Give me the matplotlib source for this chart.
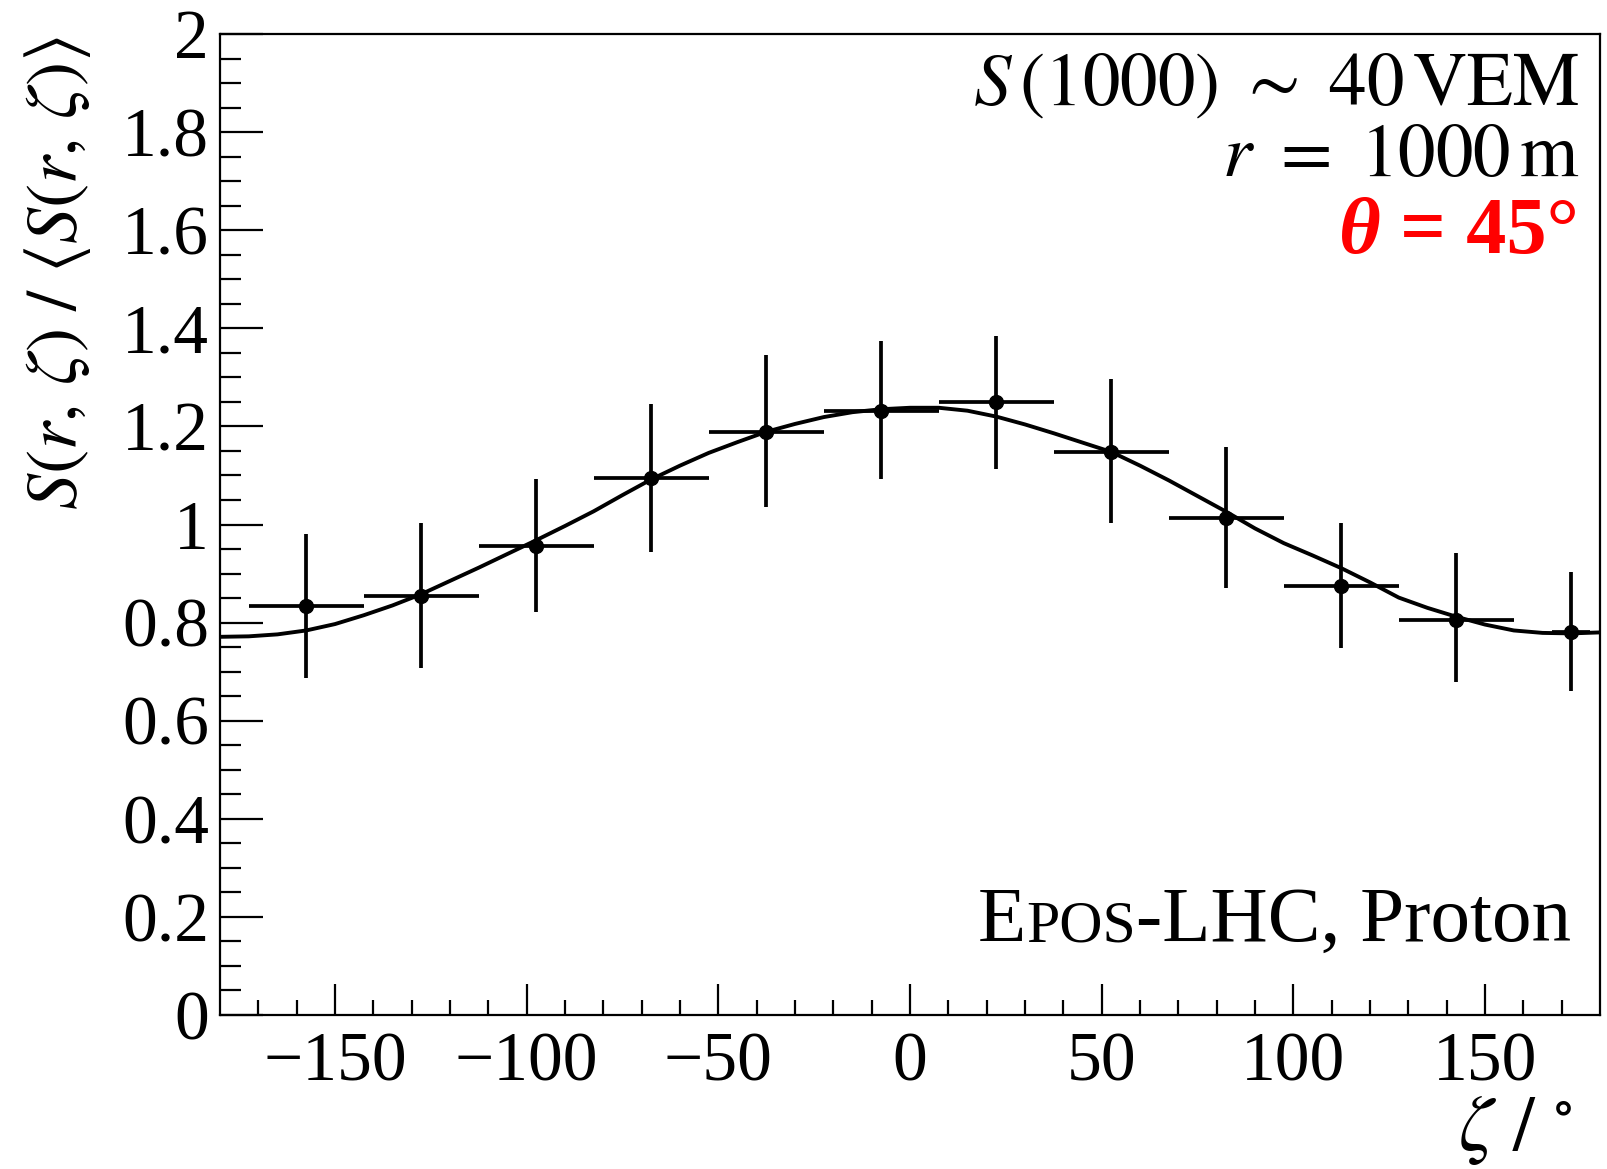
import numpy as np
import matplotlib
matplotlib.use("Agg")
import matplotlib.pyplot as plt
from matplotlib.offsetbox import TextArea, HPacker, AnchoredOffsetbox

plt.rcParams['font.family'] = ['Liberation Serif', 'DejaVu Serif']
plt.rcParams['mathtext.fontset'] = 'stix'

# data points (zeta bin centres, ratio, errors)
zeta = [-157.5, -127.5, -97.5, -67.5, -37.5, -7.5, 22.5, 52.5, 82.5, 112.5, 142.5, 172.5]
ratio = [0.834, 0.855, 0.957, 1.094, 1.188, 1.232, 1.250, 1.147, 1.014, 0.874, 0.806, 0.781]
err_hi = [0.146, 0.149, 0.135, 0.151, 0.158, 0.143, 0.134, 0.150, 0.145, 0.130, 0.135, 0.123]
err_lo = [0.146, 0.147, 0.135, 0.151, 0.152, 0.140, 0.137, 0.143, 0.144, 0.126, 0.127, 0.120]
zeta_err = [15, 15, 15, 15, 15, 15, 15, 15, 15, 15, 15, 5]

# fitted curve, every 7.5 deg
fit_x = [-180, -172.5, -165, -157.5, -150, -142.5, -135, -127.5, -120, -112.5, -105, -97.5,
         -90, -82.5, -75, -67.5, -60, -52.5, -45, -37.5, -30, -22.5, -15, -7.5,
         0, 7.5, 15, 22.5, 30, 37.5, 45, 52.5, 60, 67.5, 75, 82.5,
         90, 97.5, 105, 112.5, 120, 127.5, 135, 142.5, 150, 157.5, 165, 172.5, 180]
fit_y = [0.771, 0.772, 0.776, 0.784, 0.797, 0.815, 0.835, 0.858, 0.885, 0.912, 0.940, 0.968,
         0.997, 1.027, 1.060, 1.092, 1.120, 1.146, 1.168, 1.189, 1.205, 1.219, 1.229, 1.235,
         1.238, 1.238, 1.232, 1.220, 1.204, 1.186, 1.167, 1.148, 1.120, 1.090, 1.058, 1.026,
         0.992, 0.962, 0.937, 0.911, 0.882, 0.851, 0.830, 0.812, 0.796, 0.784, 0.779, 0.778, 0.780]

fig = plt.figure(figsize=(16.08, 11.69), dpi=100)
ax = fig.add_axes([220/1608, 154/1169, 1380/1608, 981/1169])

ax.plot(fit_x, fit_y, color='k', lw=2.8, zorder=2, solid_joinstyle='round')
ax.errorbar(zeta, ratio, xerr=zeta_err, yerr=[err_lo, err_hi], fmt='o', color='k',
            ms=10, elinewidth=2.7, capsize=0, zorder=3)

ax.set_xlim(-180, 180)
ax.set_ylim(0, 2)
ax.set_xticks([-150, -100, -50, 0, 50, 100, 150])
ax.set_xticklabels(['\u2212150', '\u2212100', '\u221250', '0', '50', '100', '150'])
ax.set_xticks(np.arange(-170, 180, 10), minor=True)
ax.set_yticks([0, 0.2, 0.4, 0.6, 0.8, 1, 1.2, 1.4, 1.6, 1.8, 2])
ax.set_yticklabels(['0', '0.2', '0.4', '0.6', '0.8', '1', '1.2', '1.4', '1.6', '1.8', '2'])
ax.set_yticks(np.arange(0, 2.0, 0.05), minor=True)
ax.tick_params(axis='both', which='both', direction='in', width=1.6, labelsize=50,
               top=False, right=False)
ax.tick_params(axis='y', which='major', length=31, pad=8)
ax.tick_params(axis='y', which='minor', length=15)
ax.tick_params(axis='x', which='major', length=22, pad=12)
ax.tick_params(axis='x', which='minor', length=11)
for s in ax.spines.values():
    s.set_linewidth(1.6)

fig.text(58/1608, 1 - 36/1169, r'$S(r,\,\zeta)\ /\ \langle S(r,\,\zeta)\rangle$',
         rotation=90, ha='center', va='top', fontsize=52)
fig.text(1572/1608, 2/1169, r'$\zeta\ /\ ^{\circ}$', ha='right', va='bottom', fontsize=56)

fig.text(1579/1608, 1 - 105/1169, r'$S\,(1000)\ \sim\ 40\,\mathrm{VEM}$',
         ha='right', va='baseline', fontsize=54)
fig.text(1579/1608, 1 - 176/1169, r'$r\ =\ 1000\,\mathrm{m}$',
         ha='right', va='baseline', fontsize=54)

theta_box = HPacker(children=[
    TextArea('θ', textprops=dict(fontsize=58, color='red', fontweight='bold', fontstyle='italic')),
    TextArea(' = 45°', textprops=dict(fontsize=58, color='red', fontweight='bold'))],
    align='baseline', pad=0, sep=0)
fig.add_artist(AnchoredOffsetbox(loc='lower right', child=theta_box, pad=0, borderpad=0,
                                 frameon=False, bbox_to_anchor=(1579/1608, 1 - 270/1169),
                                 bbox_transform=fig.transFigure))

epos_box = HPacker(children=[
    TextArea('E', textprops=dict(fontsize=57)),
    TextArea('POS', textprops=dict(fontsize=43)),
    TextArea('-LHC, Proton', textprops=dict(fontsize=57))],
    align='baseline', pad=0, sep=0)
fig.add_artist(AnchoredOffsetbox(loc='lower right', child=epos_box, pad=0, borderpad=0,
                                 frameon=False, bbox_to_anchor=(1571/1608, 1 - 958/1169),
                                 bbox_transform=fig.transFigure))

fig.savefig('out.png', dpi=100)
